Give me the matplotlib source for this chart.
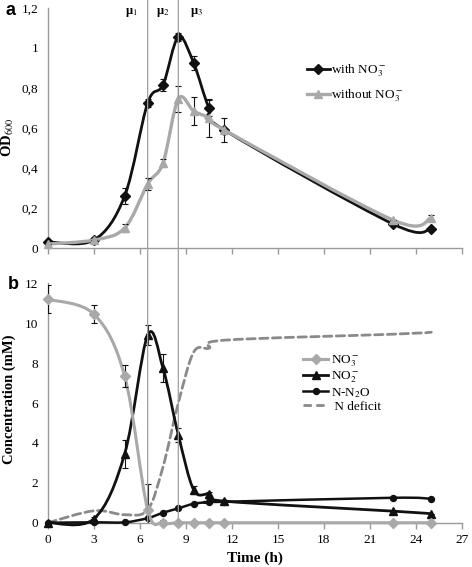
import numpy as np
import matplotlib
matplotlib.use("Agg")
import matplotlib.pyplot as plt
from matplotlib.path import Path
from matplotlib.patches import PathPatch, ConnectionPatch
from matplotlib.lines import Line2D

plt.rcParams["font.family"] = ["Liberation Serif", "DejaVu Serif"]
plt.rcParams["mathtext.fontset"] = "stix"

# --- data ------------------------------------------------------------------
time_h = [0, 3, 5, 6.5, 7.5, 8.5, 9.5, 10.5, 11.5, 22.5, 25]

od_with = [0.03, 0.04, 0.26, 0.725, 0.815, 1.055, 0.925, 0.70, 0.59, 0.12, 0.095]
od_with_err = [0.0, 0.0, 0.04, 0.02, 0.03, 0.02, 0.035, 0.04, 0.0, 0.0, 0.0]
od_without = [0.02, 0.04, 0.10, 0.32, 0.425, 0.745, 0.685, 0.65, 0.59, 0.14, 0.15]
od_without_err = [0.0, 0.0, 0.02, 0.03, 0.02, 0.065, 0.07, 0.095, 0.06, 0.0, 0.015]

no3 = [11.2, 10.45, 7.35, 0.65, 0.0, 0.0, 0.0, 0.0, 0.0, 0.0, 0.0]
no3_err = [0.7, 0.45, 0.55, 1.3, 0.12, 0.1, 0.1, 0.1, 0.0, 0.0, 0.0]
no2 = [0.0, 0.2, 3.45, 9.4, 7.75, 4.4, 1.65, 1.42, 1.08, 0.58, 0.45]
no2_err = [0.0, 0.1, 0.7, 0.5, 0.7, 0.35, 0.2, 0.1, 0.0, 0.0, 0.0]
n2o = [0.0, 0.02, 0.02, 0.23, 0.5, 0.72, 0.95, 1.03, 1.05, 1.25, 1.2]
n_deficit = [0.0, 0.6, 0.4, 0.65, 2.8, 6.0, 8.55, 8.75, 9.15, 9.45, 9.55]

mu_labels = ["μ$_1$", "μ$_2$", "μ$_3$"]
mu_pos = [5.45, 7.5, 9.7]
phase_lines = [6.5, 8.5]

xticks = list(range(0, 28, 3))
od_ticks = [0, 0.2, 0.4, 0.6, 0.8, 1.0, 1.2]
od_ticklabels = ["0", "0,2", "0,4", "0,6", "0,8", "1", "1,2"]
conc_ticks = [0, 2, 4, 6, 8, 10, 12]

BLACK = "#111111"
GRAY = "#a9a9a9"
DGRAY = "#8a8a8a"
SPINE = "#9a9a9a"


def smooth_path(x, y):
    # Excel-like smoothed line: cubic Bezier through the points
    pts = np.column_stack([x, y]).astype(float)
    n = len(pts)
    verts = [pts[0]]
    codes = [Path.MOVETO]
    for i in range(n - 1):
        p0 = pts[i - 1] if i > 0 else pts[i]
        p1, p2 = pts[i], pts[i + 1]
        p3 = pts[i + 2] if i + 2 < n else pts[i + 1]
        c1 = p1 + (p2 - p0) / 6.0
        c2 = p2 - (p3 - p1) / 6.0
        verts += [c1, c2, p2]
        codes += [Path.CURVE4] * 3
    return Path(verts, codes)


def draw_series(ax, x, y, err, color, marker, ms, lw, ls="-", zorder=3):
    ax.add_patch(PathPatch(smooth_path(x, y), facecolor="none", edgecolor=color,
                           lw=lw, linestyle=ls, zorder=zorder, capstyle="round",
                           clip_on=False))
    if err is not None:
        ax.errorbar(x, y, yerr=err, fmt="none", ecolor=BLACK, elinewidth=0.8,
                    capsize=2.2, capthick=0.8, zorder=zorder + 1)
    if marker:
        ax.plot(x, y, linestyle="none", marker=marker, ms=ms, color=color,
                zorder=zorder + 2, clip_on=False)


def style_axes(ax):
    for s in ["top", "right"]:
        ax.spines[s].set_visible(False)
    for s in ["left", "bottom"]:
        ax.spines[s].set_color(SPINE)
        ax.spines[s].set_linewidth(1.0)
    ax.set_xlim(0, 27)
    ax.set_xticks(xticks)
    ax.tick_params(axis="x", direction="out", length=4, color=SPINE, width=1.0,
                   labelsize=9.5, pad=4)
    ax.tick_params(axis="y", length=0, labelsize=9.5, pad=7)


fig = plt.figure(figsize=(4.72, 5.67), dpi=100)
ax_a = fig.add_axes([0.1017, 0.5626, 0.877, 0.4233])
ax_b = fig.add_axes([0.1017, 0.0781, 0.877, 0.4222])

# --- panel a ---------------------------------------------------------------
style_axes(ax_a)
ax_a.set_ylim(0, 1.2)
ax_a.set_yticks(od_ticks)
ax_a.set_yticklabels(od_ticklabels)
ax_a.set_xticklabels([])
draw_series(ax_a, time_h, od_with, od_with_err, BLACK, "D", 4.6, 2.0, zorder=3)
draw_series(ax_a, time_h, od_without, od_without_err, GRAY, "^", 6.0, 2.4, zorder=6)
ax_a.set_ylabel("OD$_{600}$", fontsize=10.5, fontweight="bold")
ax_a.yaxis.set_label_coords(-0.078, 0.46)
for lab, xp in zip(mu_labels, mu_pos):
    ax_a.text(xp, 1.175, lab, fontsize=9, fontweight="bold", ha="center", va="center")

handles_a = [
    Line2D([], [], color=BLACK, lw=2.0, marker="D", ms=4.6),
    Line2D([], [], color=GRAY, lw=2.4, marker="^", ms=6.0),
]
ax_a.legend(handles_a, ["with NO$_3^-$", "without NO$_3^-$"], loc="upper left",
            bbox_to_anchor=(0.61, 0.8), frameon=False, fontsize=9.5,
            handlelength=1.7, handletextpad=0.1, labelspacing=0.65, borderpad=0)

# --- panel b ---------------------------------------------------------------
style_axes(ax_b)
ax_b.set_ylim(0, 12)
ax_b.set_yticks(conc_ticks)
draw_series(ax_b, time_h, n_deficit, None, DGRAY, None, 0, 2.0, ls=(0, (3, 1.6)), zorder=2)
draw_series(ax_b, time_h, n2o, None, BLACK, "o", 4.3, 1.8, zorder=3)
draw_series(ax_b, time_h, no2, no2_err, BLACK, "^", 6.0, 2.0, zorder=6)
draw_series(ax_b, time_h, no3, no3_err, GRAY, "D", 4.6, 2.2, zorder=9)
ax_b.set_ylabel("Concentration (mM)", fontsize=10.5, fontweight="bold")
ax_b.yaxis.set_label_coords(-0.078, 0.517)
ax_b.set_xlabel("Time (h)", fontsize=11, fontweight="bold", labelpad=4)

handles_b = [
    Line2D([], [], color=GRAY, lw=2.2, marker="D", ms=4.6),
    Line2D([], [], color=BLACK, lw=2.0, marker="^", ms=6.0),
    Line2D([], [], color=BLACK, lw=1.8, marker="o", ms=4.3),
    Line2D([], [], color=DGRAY, lw=2.0, linestyle=(0, (3, 1.6))),
]
ax_b.legend(handles_b, ["NO$_3^-$", "NO$_2^-$", "N-N$_2$O", " N deficit"],
            loc="upper left", bbox_to_anchor=(0.6, 0.735), frameon=False,
            fontsize=9.5, handlelength=1.9, handletextpad=0.2, labelspacing=0.05,
            borderpad=0)

# phase boundaries spanning both panels
for xp in phase_lines:
    con = ConnectionPatch(xyA=(xp, 1.245), coordsA=ax_a.transData,
                          xyB=(xp, 0), coordsB=ax_b.transData,
                          color="#a0a0a0", lw=0.9, zorder=1)
    fig.add_artist(con)

fig.text(0.012, 0.982, "a", fontsize=13, fontweight="bold",
         family=["Liberation Sans", "DejaVu Sans"], va="center")
fig.text(0.016, 0.498, "b", fontsize=13, fontweight="bold",
         family=["Liberation Sans", "DejaVu Sans"], va="center")

fig.savefig("out.png", dpi=100)
